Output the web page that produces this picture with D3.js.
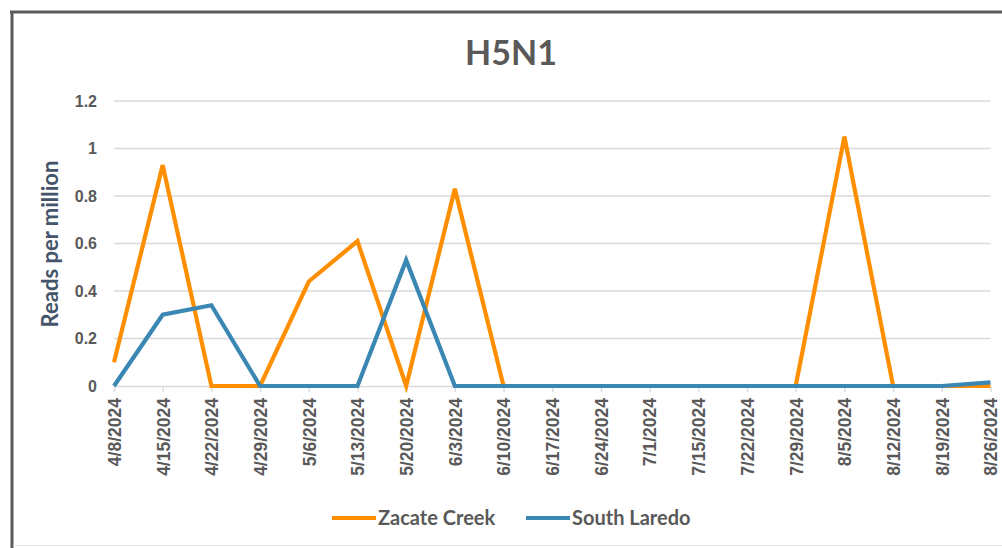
<!DOCTYPE html>
<html><head><meta charset="utf-8">
<script src="https://cdn.jsdelivr.net/npm/d3@7"></script>
<style>html,body{margin:0;padding:0;background:#fff;}svg{display:block;font-family:Lato,"Open Sans",sans-serif;}</style>
</head><body>
<svg id="c" width="1002" height="548"></svg>
<script>
const categories = ["4/8/2024","4/15/2024","4/22/2024","4/29/2024","5/6/2024","5/13/2024","5/20/2024","6/3/2024","6/10/2024","6/17/2024","6/24/2024","7/1/2024","7/15/2024","7/22/2024","7/29/2024","8/5/2024","8/12/2024","8/19/2024","8/26/2024"];
const zacateCreek = [0.10,0.93,0,0,0.44,0.61,0,0.83,0,0,0,0,0,0,0,1.05,0,0,0];
const southLaredo = [0,0.30,0.34,0,0,0,0.53,0,0,0,0,0,0,0,0,0,0,0,0.015];
const yTicks = [0,0.2,0.4,0.6,0.8,1,1.2];
const seriesNames = ["Zacate Creek","South Laredo"];
const colors = ["#FF8F00","#3A87B3"];

const svg = d3.select("#c");
svg.append("rect").attr("x",0).attr("y",0).attr("width",1002).attr("height",548).attr("fill","#fff");
svg.append("line").attr("x1",10).attr("x2",1002).attr("y1",12).attr("y2",12).attr("stroke","#5a5a5a").attr("stroke-width",3);
svg.append("line").attr("x1",12).attr("x2",12).attr("y1",11).attr("y2",548).attr("stroke","#5a5a5a").attr("stroke-width",3);
svg.append("line").attr("x1",13).attr("x2",1002).attr("y1",545.5).attr("y2",545.5).attr("stroke","#e6e6e6").attr("stroke-width",1);

const x = d3.scalePoint().domain(categories).range([114,990.5]);
const y = d3.scaleLinear().domain([0,1.2]).range([386,101]);

svg.append("g").selectAll("line").data(yTicks.filter(d=>d>0)).join("line")
  .attr("x1",114).attr("x2",990.5).attr("y1",d=>y(d)).attr("y2",d=>y(d))
  .attr("stroke","#d9d9d9").attr("stroke-width",1.3);

const yAxis = d3.axisLeft(y).tickValues(yTicks).tickSize(0).tickPadding(0).tickFormat(d=>d3.format("")(d));
const gy = svg.append("g").attr("transform","translate(97,0)").call(yAxis);
gy.select(".domain").remove();
gy.selectAll("text").attr("fill","#595959").attr("font-size",16).attr("font-weight","bold");

const xAxis = d3.axisBottom(x).tickSize(6).tickPadding(7);
const gx = svg.append("g").attr("transform","translate(0,386)").call(xAxis);
gx.select(".domain").attr("stroke","#d9d9d9").attr("stroke-width",1.3).attr("d","M114,0.5H990.5");
gx.selectAll(".tick line").attr("stroke","#d9d9d9").attr("stroke-width",1.3);
gx.selectAll("text").attr("fill","#595959").attr("font-size",17.5).attr("font-weight","bold")
  .attr("transform","rotate(-90)").attr("text-anchor","end").attr("dy","0.36em").attr("dx",0).attr("y",0).attr("x",-12);

const line = d3.line().x((d,i)=>x(categories[i])).y(d=>y(d));
[zacateCreek, southLaredo].forEach((s,k)=>{
  svg.append("path").datum(s).attr("d",line).attr("fill","none")
    .attr("stroke",colors[k]).attr("stroke-width",4.2).attr("stroke-linejoin","miter").attr("stroke-linecap","butt");
});

svg.append("text").attr("x",511).attr("y",65).attr("text-anchor","middle")
  .attr("font-size",34).attr("font-weight","bold").attr("fill","#595959").text("H5N1");

svg.append("text").attr("transform","translate(58,244) rotate(-90)").attr("text-anchor","middle")
  .attr("font-size",22).attr("font-weight","bold").attr("fill","#44546A").text("Reads per million");

const legX = [332,526];
seriesNames.forEach((n,k)=>{
  const g = svg.append("g").attr("transform",`translate(${legX[k]},518)`);
  g.append("line").attr("x1",0).attr("x2",44).attr("y1",0).attr("y2",0).attr("stroke",colors[k]).attr("stroke-width",4.2);
  g.append("text").attr("x",46).attr("y",7).attr("font-size",20).attr("font-weight","bold").attr("fill","#595959").text(n);
});
</script>
</body></html>
